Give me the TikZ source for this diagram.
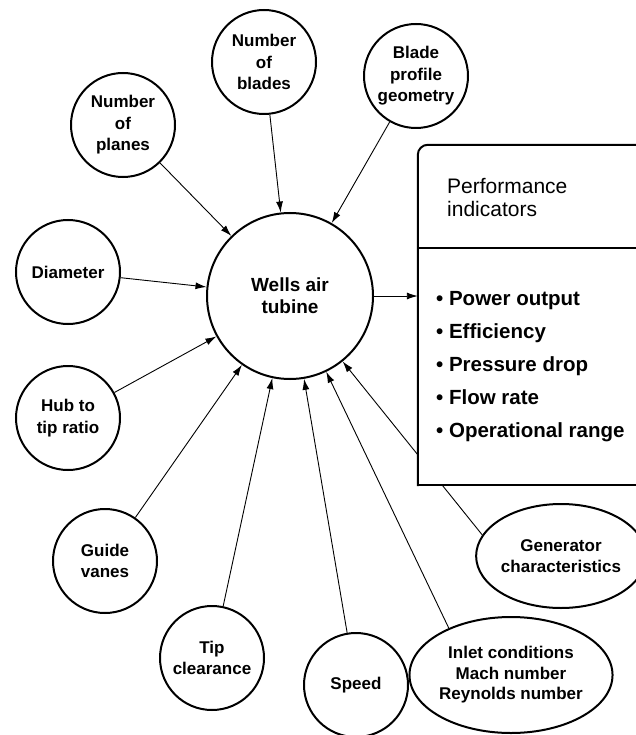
\documentclass[tikz,border=0pt]{standalone}
\usepackage{fontspec}
\setmainfont{Liberation Sans}
\usetikzlibrary{positioning}
\usetikzlibrary{shapes.geometric}
\usetikzlibrary {arrows.meta}

\begin{document}
\begin{tikzpicture}[
		x=1pt, y=-1pt,
		c/.style = {circle, draw=black, line width=2pt, minimum size=104, inner sep=0, align=center, font=\bfseries\fontsize{17}{21.5}\selectfont},
		e/.style = {ellipse, draw=black, line width=2pt, inner sep=0, align=center, font=\bfseries\fontsize{17}{20.5}\selectfont},
		b/.style = {line width=2pt, line cap=rect},
		r/.style = {-{Latex[length=11pt, width=7pt]}, line width=0.9pt}
		]
		\useasboundingbox (0, 0) rectangle (635, 735);
		
		%Nodes
		\node[c]	(planes)	at	(123, 125)	{Number\\of\\planes};
		\node[c]	(blades)	at	(264, 62)	{Number\\of\\blades};
		\node[c]	(profile)	at	(416, 76)	{Blade\\profile\\geometry};
		\node[c]	(diam)		at	(68, 272)	{Diameter};
		\node[c]	(hub)		at	(68, 418)	{Hub to\\tip ratio};
		\node[c]	(vanes)		at	(105, 561)	{Guide\\vanes};
		\node[c]	(tip)		at	(212, 658)	{Tip\\clearance};
		\node[c]	(speed)		at	(356, 685)	{Speed};
		\node[e, minimum width=172, minimum height=116]	(inlet)	at	(511, 675)	{Inlet conditions\\Mach number\\Reynolds number};
		\node[e, minimum width=148, minimum height=104]	(gen)	at	(561, 556)	{Generator\\characteristics};
		\node[c, minimum size=166, font=\bfseries\fontsize{19}{22}\selectfont]	(wells)	at	(290, 296)	{Wells air\\tubine};
		\node[minimum width=232, minimum height=340, inner sep=0]	(perf)	at	(534, 315)	{};
		\coordinate	(split)	at	(418, 248);
		
		%Lines
		\draw[r]	(planes)	--	(wells);
		\draw[r]	(blades)	--	(wells);
		\draw[r]	(profile)	--	(wells);
		\draw[r]	(diam)		--	(wells);
		\draw[r]	(hub)		--	(wells);
		\draw[r]	(vanes)		--	(wells);
		\draw[r]	(tip)		--	(wells);
		\draw[r]	(speed)		--	(wells);
		\draw[r]	(inlet.143)	--	(wells);
		\draw[r]	(gen.165)	--	(wells);
		\draw[r]	(wells)		--	(perf.west |- wells);
		
		%Box
		\fill[white]	(perf.south west)	rectangle	(perf.north east);
		\draw[b, rounded corners=10]	(perf.south west)	--	(perf.north west)	--	(perf.north east);
		\draw[b]	(perf.south west)	--	(perf.south east);
		\draw[b]	(split)	--	(split -| perf.east);
		\node[anchor=west, align=left, inner sep=0, font=\fontsize{21}{23}\selectfont]	(title)	at	(447, 198)	{Performance\\indicators};
		\node[anchor=west, align=left, inner sep=0, font=\bfseries\fontsize{20.5}{33}\selectfont]	(list)	at	(436, 367)	{\textbullet\ Power output\\\textbullet\ Efficiency\\\textbullet\ Pressure drop\\\textbullet\ Flow rate\\\textbullet\ Operational range};
	\end{tikzpicture}
\end{document}
